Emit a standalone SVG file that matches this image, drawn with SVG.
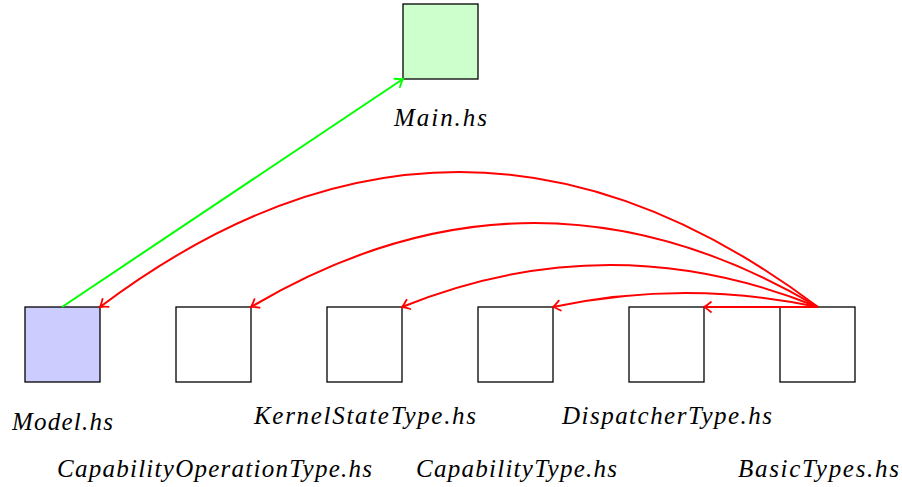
<svg xmlns="http://www.w3.org/2000/svg" width="902" height="487" viewBox="0 0 902 487">
  <defs>
    <style>
      .box { stroke: #000; stroke-width: 1.3; }
      .lbl { font-style: italic; fill: #000; text-anchor: middle; }
      .edge { fill: none; stroke-width: 2; }
      .red { stroke: #ff0000; }
      .green { stroke: #00ff00; }
    </style>
    <marker id="tipRed" markerUnits="userSpaceOnUse" markerWidth="16" markerHeight="16" viewBox="-10 -8 12 16" refX="0" refY="0" orient="auto">
      <path d="M -7 -5 Q -2.5 -1.2 0 0 Q -2.5 1.2 -7 5" fill="none" stroke="#ff0000" stroke-width="1.8" stroke-linecap="round"/>
    </marker>
    <marker id="tipGreen" markerUnits="userSpaceOnUse" markerWidth="16" markerHeight="16" viewBox="-10 -8 12 16" refX="0" refY="0" orient="auto">
      <path d="M -7 -5 Q -2.5 -1.2 0 0 Q -2.5 1.2 -7 5" fill="none" stroke="#00ff00" stroke-width="1.8" stroke-linecap="round"/>
    </marker>
  </defs>
  <rect width="902" height="487" fill="#fff"/>

  <g font-family="Liberation Serif, serif" font-size="25">
    <g id="main">
      <rect class="box" x="403" y="4" width="75" height="75" fill="#ccffcc"/>
      <text class="lbl" x="440.5" y="126" textLength="93" lengthAdjust="spacing">Main.hs</text>
    </g>
    <g id="model">
      <rect class="box" x="25" y="307" width="75" height="75" fill="#ccccff"/>
      <text class="lbl" x="62.5" y="430" textLength="101" lengthAdjust="spacing">Model.hs</text>
    </g>
    <g id="capabilityOperationType">
      <rect class="box" x="176" y="307" width="75" height="75" fill="#fff"/>
      <text class="lbl" x="214.5" y="477" textLength="315" lengthAdjust="spacing">CapabilityOperationType.hs</text>
    </g>
    <g id="kernelStateType">
      <rect class="box" x="327" y="307" width="75" height="75" fill="#fff"/>
      <text class="lbl" x="365" y="424" textLength="222" lengthAdjust="spacing">KernelStateType.hs</text>
    </g>
    <g id="capabilityType">
      <rect class="box" x="478" y="307" width="75" height="75" fill="#fff"/>
      <text class="lbl" x="516.5" y="477" textLength="201" lengthAdjust="spacing">CapabilityType.hs</text>
    </g>
    <g id="dispatcherType">
      <rect class="box" x="629" y="307" width="75" height="75" fill="#fff"/>
      <text class="lbl" x="667" y="424" textLength="210" lengthAdjust="spacing">DispatcherType.hs</text>
    </g>
    <g id="basicTypes">
      <rect class="box" x="780" y="307" width="75" height="75" fill="#fff"/>
      <text class="lbl" x="818.5" y="477" textLength="161" lengthAdjust="spacing">BasicTypes.hs</text>
    </g>
  </g>

  <g id="connectors">
    <path class="edge green" d="M 62 307 L 403 79" marker-end="url(#tipGreen)"/>
    <path class="edge red" d="M 818 307 L 704 307" marker-end="url(#tipRed)"/>
    <path class="edge red" d="M 818 307 Q 685.5 279 553 307" marker-end="url(#tipRed)"/>
    <path class="edge red" d="M 818 307 Q 610 223 402 307" marker-end="url(#tipRed)"/>
    <path class="edge red" d="M 818 307 Q 534.5 139 251 307" marker-end="url(#tipRed)"/>
    <path class="edge red" d="M 818 307 Q 459 37 100 307" marker-end="url(#tipRed)"/>
  </g>
</svg>
